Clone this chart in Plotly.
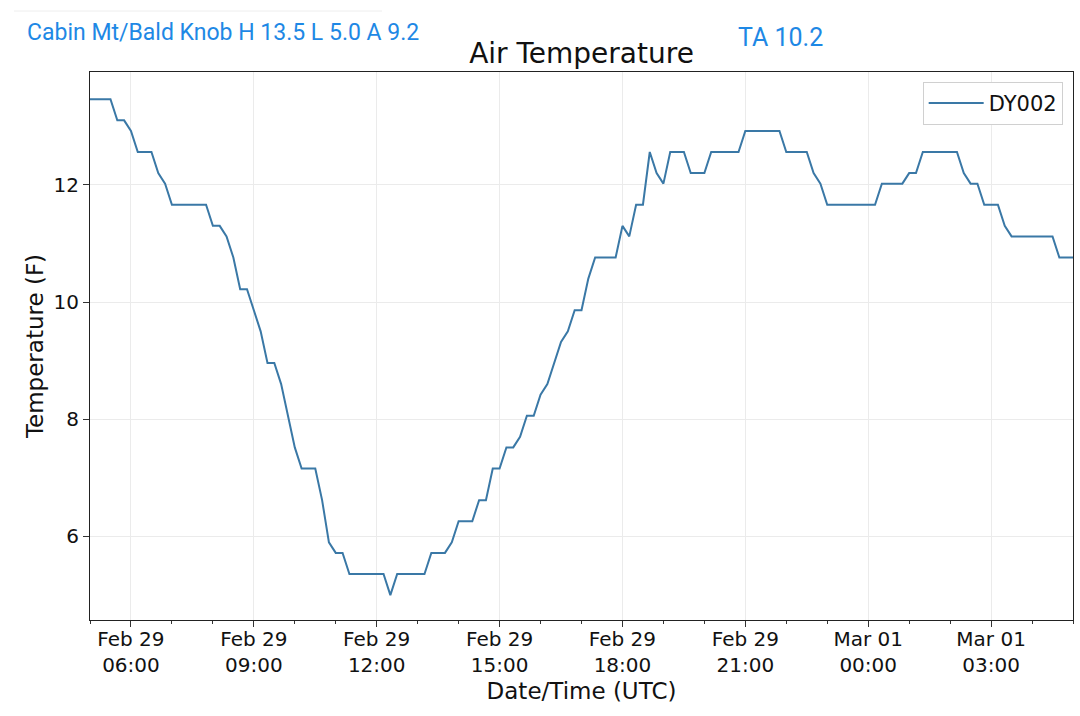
import pandas as pd
import plotly.graph_objects as go

STATION = "Cabin Mt/Bald Knob"
SENSOR = "DY002"
START = "2024-02-29 05:00"
STEP = "10min"

# 10-minute readings, deg F (0.1 C resolution converted)
temp_f = (
    [13.46] * 4 + [13.10] * 2 + [12.92] + [12.56] * 3 + [12.20] + [12.02]
    + [11.66] * 6 + [11.30] * 2 + [11.12] + [10.76] + [10.22] * 2
    + [9.86] + [9.50] + [8.96] * 2 + [8.60] + [8.06] + [7.52]
    + [7.16] * 3 + [6.62] + [5.90] + [5.72] * 2 + [5.36] * 6 + [5.00]
    + [5.36] * 5 + [5.72] * 3 + [5.90] + [6.26] * 3 + [6.62] * 2
    + [7.16] * 2 + [7.52] * 2 + [7.70] + [8.06] * 2 + [8.42] + [8.60]
    + [8.96] + [9.32] + [9.50] + [9.86] * 2 + [10.40] + [10.76] * 4
    + [11.30] + [11.12] + [11.66] * 2 + [12.56] + [12.20] + [12.02]
    + [12.56] * 3 + [12.20] * 3 + [12.56] * 5 + [12.92] * 6
    + [12.56] * 4 + [12.20] + [12.02] + [11.66] * 8 + [12.02] * 4
    + [12.20] * 2 + [12.56] * 6 + [12.20] + [12.02] * 2 + [11.66] * 3
    + [11.30] + [11.12] * 7 + [10.76] * 3
)
times = pd.date_range(START, periods=len(temp_f), freq=STEP)

header = f"{STATION} H 13.5 L 5.0 A 9.2"
ta_text = "TA 10.2"

BLUE = "#1e88e5"
FONT = "DejaVu Sans"

fig = go.Figure()
fig.add_trace(go.Scatter(
    x=times, y=temp_f, mode="lines", name=SENSOR,
    line=dict(color="#3a78a6", width=2),
))

fig.update_layout(
    width=1080, height=716,
    margin=dict(l=90, r=7, t=72, b=96),
    paper_bgcolor="white", plot_bgcolor="white",
    font=dict(family=FONT, size=20, color="#111111"),
    title=dict(text="Air Temperature", x=0.5, xref="paper", y=1 - 53 / 716,
               yref="container", yanchor="middle", xanchor="center",
               font=dict(size=28, color="#111111")),
    showlegend=True,
    legend=dict(x=0.9895, y=0.982, xanchor="right", yanchor="top",
                bordercolor="#d0d0d0", borderwidth=1, bgcolor="white",
                font=dict(size=21), itemwidth=55),
)

fig.update_xaxes(
    range=[times[0], times[-1]],
    tick0="2024-02-29 06:00", dtick=3 * 3600 * 1000,
    tickformat="%b %d<br>%H:%M",
    ticks="outside", ticklen=6, tickcolor="#333333",
    ticklabelstandoff=-5,
    minor=dict(dtick=3600 * 1000, ticks="outside", ticklen=3, tickcolor="#333333", showgrid=False),
    showgrid=True, gridcolor="#ebebeb", gridwidth=1,
    showline=True, linecolor="#222222", linewidth=1.2, mirror=True,
    title=dict(text="Date/Time (UTC)", font=dict(size=23), standoff=6),
    zeroline=False,
)
fig.update_yaxes(
    range=[4.575, 13.925],
    tickvals=[6, 8, 10, 12],
    ticks="outside", ticklen=6, tickcolor="#333333",
    showgrid=True, gridcolor="#ebebeb", gridwidth=1,
    showline=True, linecolor="#222222", linewidth=1.2, mirror=True,
    title=dict(text="Temperature (F)", font=dict(size=23), standoff=3),
    zeroline=False,
)

fig.add_annotation(
    text=header, xref="paper", yref="paper", x=(25 - 90) / 983, y=(620 - 32) / 548,
    xanchor="left", yanchor="middle", showarrow=False,
    font=dict(family="Roboto", size=23, color=BLUE),
)
fig.add_annotation(
    text=ta_text, xref="paper", yref="paper", x=(780 - 90) / 983, y=(620 - 37) / 548,
    xanchor="center", yanchor="middle", showarrow=False,
    font=dict(family="Roboto", size=25, color=BLUE),
)
fig.add_shape(
    type="line", xref="paper", yref="paper",
    x0=(14 - 90) / 983, x1=(382 - 90) / 983, y0=(620 - 11) / 548, y1=(620 - 11) / 548,
    line=dict(color="#eeeeee", width=1),
)

# drop the browser's default body margin so the figure sits at the page corner
fig.write_html("out.html", config={"displayModeBar": False},
               post_script="document.body.style.margin='0';")
